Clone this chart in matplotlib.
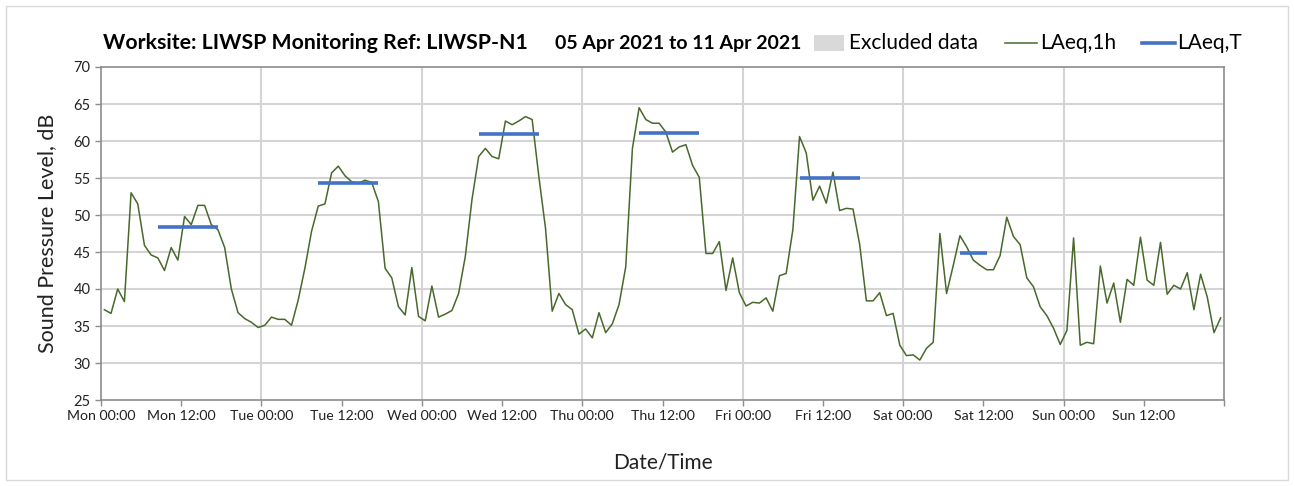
import numpy as np
import matplotlib
matplotlib.use("Agg")
import matplotlib.pyplot as plt
import matplotlib.patches as patches
from matplotlib.lines import Line2D

plt.rcParams['font.family'] = ['Lato', 'DejaVu Sans']

# hourly LAeq,1h values, Mon 00:00 .. Sun 23:00
laeq_1h = [
    37.2, 36.7, 40.0, 38.3, 53.0, 51.5, 45.9, 44.6, 44.2, 42.5, 45.6, 43.9,
    49.8, 48.7, 51.3, 51.3, 48.7, 48.0, 45.6, 40.0, 36.8, 36.0, 35.5, 34.8,
    35.1, 36.2, 35.9, 35.9, 35.1, 38.5, 42.8, 47.8, 51.2, 51.5, 55.7, 56.6,
    55.3, 54.5, 54.3, 54.7, 54.4, 51.8, 42.8, 41.5, 37.6, 36.5, 42.9, 36.3,
    35.7, 40.4, 36.2, 36.6, 37.1, 39.4, 44.4, 52.1, 57.9, 59.0, 57.9, 57.6,
    62.7, 62.2, 62.7, 63.3, 62.9, 55.2, 48.2, 37.0, 39.4, 37.9, 37.2, 33.9,
    34.6, 33.4, 36.8, 34.1, 35.3, 37.9, 43.0, 59.0, 64.5, 62.9, 62.4, 62.4,
    61.2, 58.5, 59.2, 59.5, 56.7, 55.1, 44.8, 44.8, 46.4, 39.8, 44.2, 39.5,
    37.7, 38.2, 38.1, 38.8, 37.0, 41.8, 42.1, 48.0, 60.6, 58.4, 52.0, 53.9,
    51.6, 55.8, 50.6, 50.9, 50.8, 46.0, 38.4, 38.4, 39.5, 36.4, 36.7, 32.4,
    31.0, 31.1, 30.4, 32.0, 32.8, 47.5, 39.4, 43.2, 47.2, 45.7, 43.9, 43.2,
    42.6, 42.6, 44.5, 49.7, 47.1, 46.0, 41.5, 40.3, 37.6, 36.4, 34.7, 32.5,
    34.4, 46.9, 32.4, 32.8, 32.6, 43.1, 38.1, 40.8, 35.5, 41.3, 40.5, 47.0,
    41.2, 40.5, 46.3, 39.3, 40.5, 40.0, 42.2, 37.2, 42.0, 38.9, 34.1, 36.1,
]

# LAeq,T periods (hour from Mon 00:00)
period_start = [8, 32, 56, 80, 104, 128]
period_end = [18, 42, 66, 90, 114, 133]
laeq_t = [48.4, 54.3, 61.0, 61.1, 55.0, 44.9]

days = ["Mon", "Tue", "Wed", "Thu", "Fri", "Sat", "Sun"]
tick_labels = [f"{d} {t}" for d in days for t in ("00:00", "12:00")]

green = '#48682c'
blue = '#4472c4'
grid_c = '#d4d4d4'
spine_c = '#8c8c8c'

fig = plt.figure(figsize=(12.95, 4.86), dpi=100)
ax = fig.add_axes([101 / 1295, 1 - 400 / 486, 1123 / 1295, 333 / 486])

hours = np.arange(len(laeq_1h)) + 0.5
ax.plot(hours, laeq_1h, color=green, linewidth=1.1, zorder=3)
for s, e, v in zip(period_start, period_end, laeq_t):
    ax.plot([s + 0.5, e - 0.5], [v, v], color=blue, linewidth=2.6,
            solid_capstyle='butt', zorder=4)

ax.set_xlim(0, 168)
ax.set_ylim(25, 70)
ax.set_yticks(np.arange(25, 71, 5))
ax.set_xticks(np.arange(0, 168, 12))
ax.set_xticks([168], minor=True)
ax.set_xticklabels(tick_labels)
ax.tick_params(axis='both', colors=spine_c, labelcolor='#222222',
               length=4, width=1)
ax.tick_params(axis='x', labelsize=10.2)
ax.tick_params(axis='y', labelsize=10.5)
ax.tick_params(axis='x', which='minor', length=4, width=1, colors=spine_c)

for y in range(30, 70, 5):
    ax.axhline(y, color=grid_c, linewidth=1.5, zorder=1)
for x in range(24, 168, 24):
    ax.axvline(x, color=grid_c, linewidth=1.5, zorder=1)
for sp in ax.spines.values():
    sp.set_color(spine_c)
    sp.set_linewidth(1.2)

ax.set_ylabel("Sound Pressure Level, dB", fontsize=15.5, color='#222222', labelpad=12)
ax.set_xlabel("Date/Time", fontsize=15, color='#222222', labelpad=22)

# title
fig.text(103 / 1295, 1 - 43 / 486, "Worksite: LIWSP Monitoring Ref: LIWSP-N1",
         fontsize=15.3, fontweight='bold', va='center', ha='left')
fig.text(555 / 1295, 1 - 43 / 486, "05 Apr 2021 to 11 Apr 2021",
         fontsize=14, fontweight='bold', va='center', ha='left')

# legend drawn by hand
ly = 1 - 43 / 486
fig.add_artist(patches.Rectangle((814 / 1295, ly - 8 / 486), 30 / 1295, 16 / 486,
                                 transform=fig.transFigure, facecolor='#d9d9d9',
                                 edgecolor='none'))
fig.text(849 / 1295, ly, "Excluded data", fontsize=15, va='center', ha='left')
fig.add_artist(Line2D([1005 / 1295, 1037 / 1295], [ly, ly], color=green,
                      linewidth=1.1, transform=fig.transFigure))
fig.text(1040 / 1295, ly, "LAeq,1h", fontsize=15, va='center', ha='left')
fig.add_artist(Line2D([1142 / 1295, 1175 / 1295], [ly, ly], color=blue,
                      linewidth=2.6, transform=fig.transFigure))
fig.text(1177 / 1295, ly, "LAeq,T", fontsize=15, va='center', ha='left')

# outer frame
fig.add_artist(patches.Rectangle((6 / 1295, 6 / 486), 1282 / 1295, 474 / 486,
                                 transform=fig.transFigure, facecolor='none',
                                 edgecolor='#d9d9d9', linewidth=1))

fig.savefig("out.png", dpi=100)
